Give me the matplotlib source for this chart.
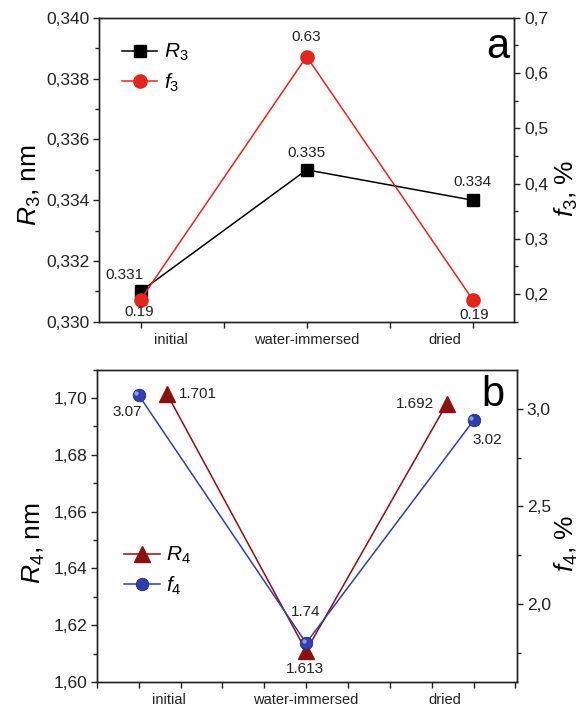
import numpy as np
import matplotlib
matplotlib.use("Agg")
import matplotlib.pyplot as plt
from matplotlib.ticker import MultipleLocator, FuncFormatter
from matplotlib.transforms import offset_copy

plt.rcParams["font.family"] = ["Liberation Sans", "DejaVu Sans"]
plt.rcParams["mathtext.fontset"] = "custom"
plt.rcParams["mathtext.it"] = "Liberation Sans:italic"
plt.rcParams["mathtext.rm"] = "Liberation Sans"

# data
categories = ["initial", "water-immersed", "dried"]
x_cat = [0, 1, 2]
x_cat_labels = [0.18, 1.0, 1.83]

r3 = [0.331, 0.335, 0.334]
r3_text = ["0.331", "0.335", "0.334"]
f3 = [0.19, 0.63, 0.19]
f3_text = ["0.19", "0.63", "0.19"]

x_r4 = [0.17, 1.0, 1.84]
r4 = [1.7014, 1.611, 1.698]
r4_text = ["1.701", "1.613", "1.692"]
x_f4 = [0, 1, 2]
f4 = [3.07, 1.80, 2.94]
f4_text = ["3.07", "1.74", "3.02"]

red = "#e2261c"
dark_red = "#8b1010"
blue = "#2f3fae"


def comma(fmt):
    return FuncFormatter(lambda v, p: (fmt % v).replace(".", ","))


def style_axis(ax):
    for s in ax.spines.values():
        s.set_linewidth(1.0)
        s.set_color("#222222")
    ax.tick_params(which="both", direction="out", colors="#222222",
                   labelsize=12.5, width=1.0, pad=2.5)
    ax.tick_params(which="major", length=4.5)
    ax.tick_params(which="minor", length=3)


def cat_labels(ax):
    for xx, name in zip(x_cat_labels, categories):
        ax.annotate(name, (xx, 0), xycoords=("data", "axes fraction"),
                    xytext=(0, -13), textcoords="offset points",
                    ha="center", va="center", fontsize=10.5, color="#222222")


def note(ax, x, y, s, dx, dy):
    ax.annotate(s, (x, y), xytext=(dx, dy), textcoords="offset points",
                ha="center", va="center", fontsize=11, color="#222222")


def spheres(ax, x, y, ms):
    ax.plot(x, y, "o", color=blue, ms=ms, mec="#1f2a80", mew=0.6, zorder=4)
    tr = offset_copy(ax.transData, fig=ax.figure, x=-1.6, y=1.6, units="points")
    ax.plot(x, y, "o", color="#8d97e6", ms=ms * 0.35, mew=0, transform=tr, zorder=5)


fig = plt.figure(figsize=(5.83, 7.15), dpi=100)

# panel a
ax1 = fig.add_axes([0.170, 0.550, 0.712, 0.425])
ax1b = ax1.twinx()

l1, = ax1.plot(x_cat, r3, "-s", color="black", lw=1.1, ms=8.5, zorder=3)
l2, = ax1b.plot(x_cat, f3, "-o", color=red, lw=1.1, ms=9.5, zorder=3)

ax1.set_xlim(-0.25, 2.25)
ax1.set_ylim(0.330, 0.340)
ax1b.set_ylim(0.15, 0.70)
ax1.xaxis.set_major_locator(MultipleLocator(0.5))
ax1.set_xticklabels([])
ax1.yaxis.set_major_locator(MultipleLocator(0.002))
ax1.yaxis.set_minor_locator(MultipleLocator(0.001))
ax1.yaxis.set_major_formatter(comma("%.3f"))
ax1b.yaxis.set_major_locator(MultipleLocator(0.1))
ax1b.yaxis.set_minor_locator(MultipleLocator(0.05))
ax1b.yaxis.set_major_formatter(comma("%.1f"))
for a in (ax1, ax1b):
    style_axis(a)
cat_labels(ax1)

ax1.set_ylabel("$R_3$, nm", fontsize=19)
ax1.yaxis.set_label_coords(-0.135, 0.45)
ax1b.set_ylabel("$f_3$, %", fontsize=19, rotation=90)
ax1b.yaxis.set_label_coords(1.092, 0.44)

note(ax1, x_cat[0], r3[0], r3_text[0], -12, 12)
note(ax1, x_cat[1], r3[1], r3_text[1], 0, 12)
note(ax1, x_cat[2], r3[2], r3_text[2], 0, 13)
note(ax1b, x_cat[0], f3[0], f3_text[0], -1, -9)
note(ax1b, x_cat[1], f3[1], f3_text[1], 0, 14)
note(ax1b, x_cat[2], f3[2], f3_text[2], 1, -11)

ax1.text(0.96, 0.905, "a", transform=ax1.transAxes, fontsize=30,
         ha="center", va="center")
ax1b.legend([l1, l2], ["$R_3$", "$f_3$"], loc="center left",
            bbox_to_anchor=(0.055, 0.835), frameon=False, fontsize=15,
            handlelength=1.7, handletextpad=0.3, borderpad=0,
            borderaxespad=0, labelspacing=0.4)

# panel b
ax2 = fig.add_axes([0.166, 0.046, 0.721, 0.437])
ax2b = ax2.twinx()

l3, = ax2.plot(x_r4, r4, "-^", color=dark_red, lw=1.1, ms=11, zorder=3)
ax2b.plot(x_f4, f4, "-", color=blue, lw=1.1, zorder=3)
spheres(ax2b, x_f4, f4, 9)
l4, = ax2b.plot([], [], "-o", color=blue, lw=1.1, ms=9, mec="#1f2a80", mew=0.6)

ax2.set_xlim(-0.25, 2.26)
ax2.set_ylim(1.60, 1.71)
ax2b.set_ylim(1.6, 3.2)
ax2.xaxis.set_major_locator(MultipleLocator(0.25))
ax2.set_xticklabels([])
ax2.yaxis.set_major_locator(MultipleLocator(0.02))
ax2.yaxis.set_minor_locator(MultipleLocator(0.01))
ax2.yaxis.set_major_formatter(comma("%.2f"))
ax2b.yaxis.set_major_locator(MultipleLocator(0.5))
ax2b.yaxis.set_minor_locator(MultipleLocator(0.25))
ax2b.yaxis.set_major_formatter(comma("%.1f"))
for a in (ax2, ax2b):
    style_axis(a)
cat_labels(ax2)

ax2.set_ylabel("$R_4$, nm", fontsize=19)
ax2.yaxis.set_label_coords(-0.119, 0.445)
ax2b.set_ylabel("$f_4$, %", fontsize=19, rotation=90)
ax2b.yaxis.set_label_coords(1.086, 0.445)

note(ax2, x_r4[0], r4[0], r4_text[0], 22, 0)
note(ax2, x_r4[1], r4[1], r4_text[1], -1, -13)
note(ax2, x_r4[2], r4[2], r4_text[2], -23, 0)
note(ax2b, x_f4[0], f4[0], f4_text[0], -8, -12)
note(ax2b, x_f4[1], f4[1], f4_text[1], 0, 22)
note(ax2b, x_f4[2], f4[2], f4_text[2], 10, -14)

ax2.text(0.943, 0.92, "b", transform=ax2.transAxes, fontsize=30,
         ha="center", va="center")
ax2b.legend([l3, l4], ["$R_4$", "$f_4$"], loc="center left",
            bbox_to_anchor=(0.065, 0.356), frameon=False, fontsize=15,
            handlelength=1.7, handletextpad=0.3, borderpad=0,
            borderaxespad=0, labelspacing=0.4)

fig.savefig("out.png", dpi=100)
